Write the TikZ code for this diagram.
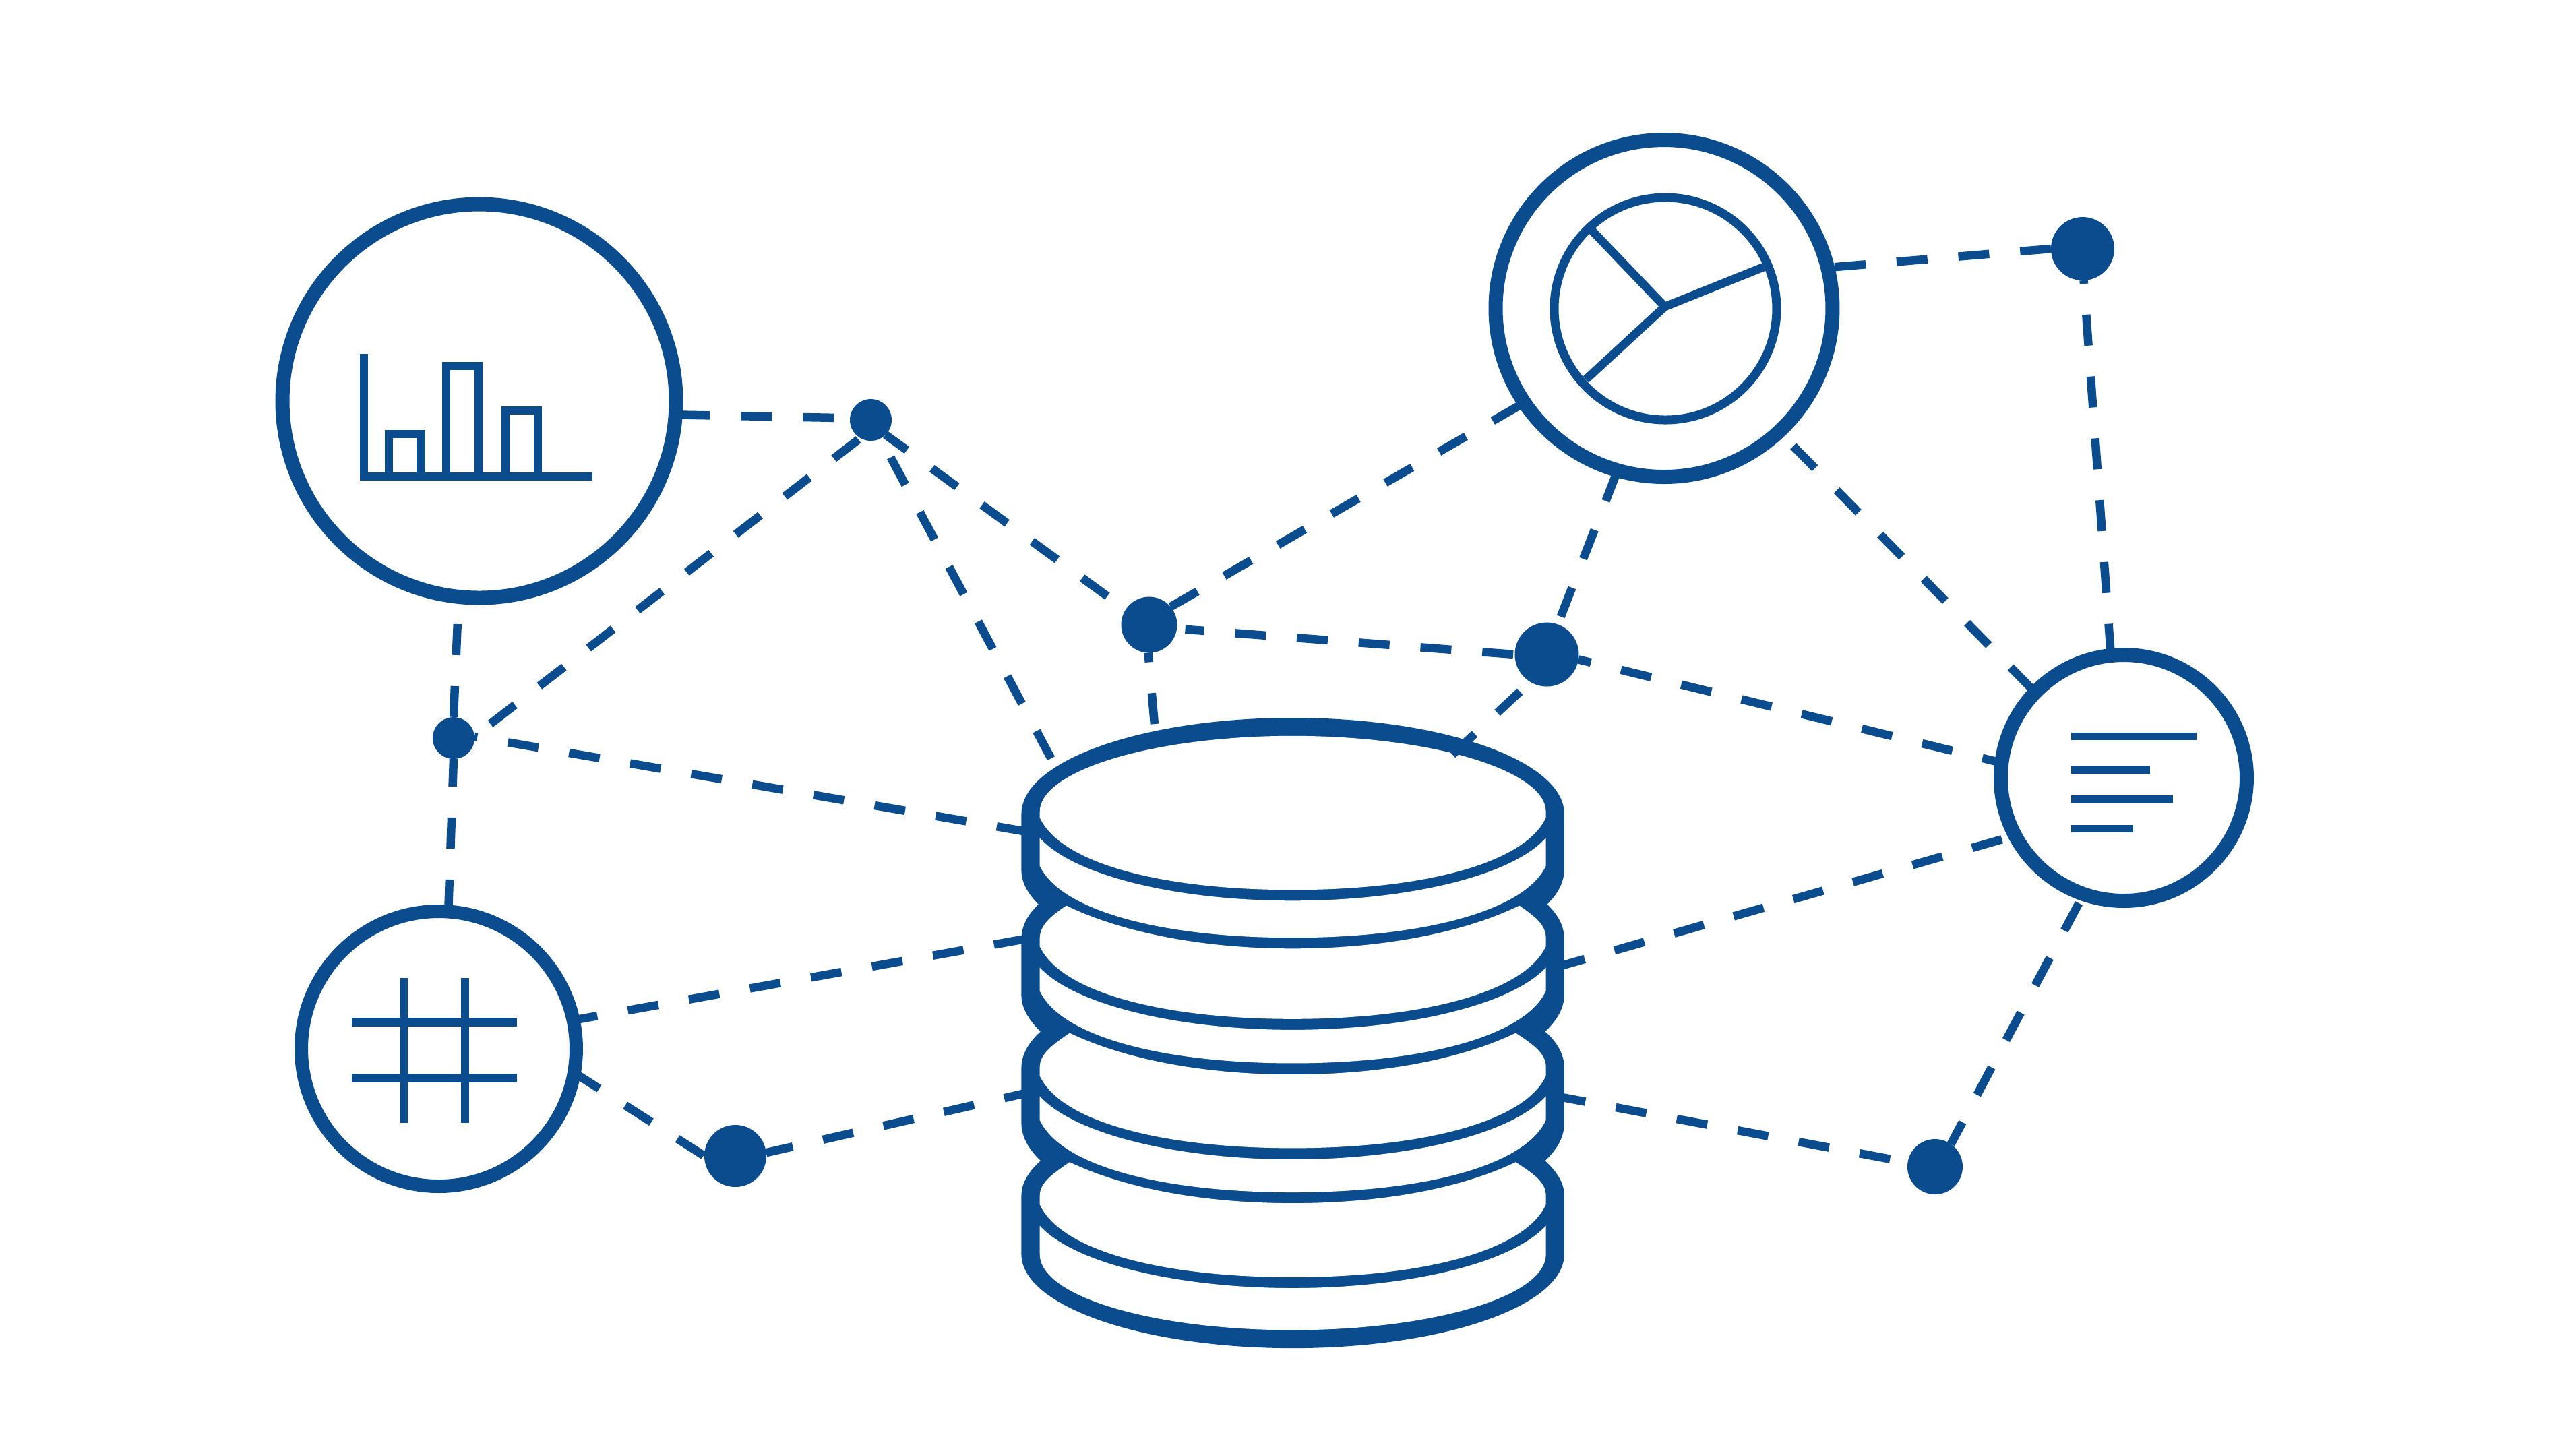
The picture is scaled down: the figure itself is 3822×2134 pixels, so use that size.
\documentclass[tikz,border=0pt]{standalone}
\definecolor{dbblue}{HTML}{0A4C8E}
\pgfdeclarelayer{connlayer}
\pgfsetlayers{connlayer,main}
\tikzset{
  ring/.style={circle,draw=dbblue,fill=white,inner sep=0pt,outer sep=0pt,line width=2.1pt},
  dot/.style={circle,fill=dbblue,inner sep=0pt,outer sep=0pt},
  conn/.style={draw=dbblue,line width=1.25pt,dash pattern=on 4.6pt off 4.6pt},
  icon/.style={draw=dbblue,line width=1.25pt,miter limit=10},
  dbmap/.style={shift={(1450,1000)},xscale=0.60606,yscale=0.66986}
}
\begin{document}
\begin{tikzpicture}[x=0.1pt,y=-0.1pt]
\useasboundingbox (0,0) rectangle (3822,2134);
% nodes
\node[ring,minimum size=58.4pt] (chart) at (711,595) {};
\node[ring,minimum size=50pt] (pie) at (2469,457.5) {};
\node[ring,minimum size=36.5pt] (text) at (3151,1154) {};
\node[ring,minimum size=40.8pt,line width=2pt] (grid) at (651,1556) {};
\node[dot,minimum size=6.2pt] (A) at (1292,623) {};
\node[dot,minimum size=6.2pt] (L) at (673,1095) {};
\node[dot,minimum size=8.3pt] (M1) at (1705,927) {};
\node[dot,minimum size=9.5pt] (M2) at (2295,971) {};
\node[dot,minimum size=9.4pt] (TR) at (3090,369) {};
\node[dot,minimum size=9.2pt] (BL) at (1091,1715) {};
\node[dot,minimum size=8.2pt] (BR) at (2871,1731) {};
% free ends on the database
\coordinate (dbA) at (1561,1128);
\coordinate (dbB) at (1713,1075);
\coordinate (dbC) at (1530,1235);
\coordinate (dbD) at (1530,1391.5);
\coordinate (dbE) at (1530,1620);
\coordinate (dbF) at (2155,1119.5);
\coordinate (dbG) at (2307,1435.5);
\coordinate (dbH) at (2307,1626);
\begin{pgfonlayer}{connlayer}
\fill[white] (0,0) rectangle (3822,2134);
\draw[conn,dash phase=8.7pt] (chart.-4.4) -- (A.175);
\draw[conn,dash phase=6.2pt] (L.5) -- (A.240);
\draw[conn,dash phase=0.7pt] (A.-45) -- (M1.147);
\draw[conn,dash phase=6pt] (A.-62) -- (dbA);
\draw[conn,dash phase=3.2pt] (M1.268) -- (dbB);
\draw[conn,dash phase=1.8pt,shorten <=1.25pt] (M1.-8) -- (M2.180);
\draw[conn] (M1.40) -- (pie.214);
\draw[conn,dash phase=5.14pt] (chart.264) -- (L.90);
\draw[conn,dash phase=0.5pt] (L.-90) -- (grid.86);
\draw[conn,dash phase=4.16pt] (L.4) -- (dbC);
\draw[conn,dash phase=0.97pt] (grid.12.5) -- (dbD);
\draw[conn,dash phase=0.2pt] (grid.-10) -- (BL.180);
\draw[conn,dash phase=0.55pt] (BL.6) -- (dbE);
\draw[conn,dash phase=8.13pt] (pie.14) -- (TR.180);
\draw[conn,dash phase=4.1pt] (TR.-88) -- (text.96);
\draw[conn,dash phase=6.18pt] (pie.-47) -- (text.136);
\draw[conn,dash phase=7.96pt] (M2.70) -- (pie.254);
\draw[conn,dash phase=2.7pt] (M2.-9) -- (text.173);
\draw[conn] (dbG) -- (text.208);
\draw[conn] (dbH) -- (BR.171);
\draw[conn,dash phase=0.92pt] (BR.55) -- (text.251);
\end{pgfonlayer}
% database
\begin{scope}[dbmap]
\fill[dbblue] (108,310) .. controls (108,192) and (405,97) .. (772,97) .. controls (1139,97) and (1437,192) .. (1437,310)
 -- (1437,432) .. controls (1437,462) and (1420,488) .. (1395,510) .. controls (1420,532) and (1437,556) .. (1437,588)
 -- (1437,710) .. controls (1437,742) and (1416,770) .. (1390,792) .. controls (1416,812) and (1437,840) .. (1437,872)
 -- (1437,995) .. controls (1437,1028) and (1416,1056) .. (1390,1078) .. controls (1416,1100) and (1437,1125) .. (1437,1155)
 -- (1437,1285) .. controls (1437,1400) and (1139,1493) .. (772,1493) .. controls (405,1493) and (108,1400) .. (108,1285)
 -- (108,1155) .. controls (108,1125) and (130,1098) .. (155,1078) .. controls (130,1056) and (108,1028) .. (108,995)
 -- (108,872) .. controls (108,840) and (130,812) .. (155,792) .. controls (130,770) and (108,742) .. (108,712)
 -- (108,588) .. controls (108,556) and (125,532) .. (150,510) .. controls (125,488) and (108,462) .. (108,435) -- cycle;
\fill[white] (153,305) .. controls (153,214) and (430,137) .. (772,137) .. controls (1114,137) and (1392,214) .. (1392,305)
 -- (1392,318) .. controls (1340,420) and (1090,478) .. (772,478) .. controls (454,478) and (205,420) .. (153,318) -- cycle;
\fill[white] (153,363) .. controls (240,450) and (500,502) .. (772,502) .. controls (1045,502) and (1305,450) .. (1392,363)
 -- (1392,425) .. controls (1340,525) and (1090,584) .. (772,584) .. controls (454,584) and (205,525) .. (153,425) -- cycle;
\fill[white] (218,513) .. controls (360,575) and (560,608) .. (772,608) .. controls (985,608) and (1185,575) .. (1327,513)
 .. controls (1365,537) and (1392,555) .. (1392,585) -- (1392,603) .. controls (1340,705) and (1090,764) .. (772,764)
 .. controls (454,764) and (205,705) .. (153,603) -- (153,585) .. controls (153,555) and (185,533) .. (218,513) -- cycle;
\fill[white] (153,650) .. controls (240,735) and (500,788) .. (772,788) .. controls (1045,788) and (1305,735) .. (1392,650)
 -- (1392,702) .. controls (1340,803) and (1090,862) .. (772,862) .. controls (454,862) and (205,803) .. (153,702) -- cycle;
\fill[white] (226,795) .. controls (365,855) and (560,887) .. (772,887) .. controls (985,887) and (1180,855) .. (1318,795)
 .. controls (1360,820) and (1392,840) .. (1392,870) -- (1392,890) .. controls (1340,992) and (1090,1050) .. (772,1050)
 .. controls (454,1050) and (205,992) .. (153,890) -- (153,870) .. controls (153,840) and (190,818) .. (226,795) -- cycle;
\fill[white] (153,935) .. controls (240,1022) and (500,1075) .. (772,1075) .. controls (1045,1075) and (1305,1022) .. (1392,935)
 -- (1392,988) .. controls (1340,1090) and (1090,1148) .. (772,1148) .. controls (454,1148) and (205,1090) .. (153,988) -- cycle;
\fill[white] (226,1081) .. controls (365,1141) and (560,1172) .. (772,1172) .. controls (985,1172) and (1180,1141) .. (1318,1081)
 .. controls (1360,1106) and (1392,1125) .. (1392,1155) -- (1392,1175) .. controls (1340,1278) and (1090,1336) .. (772,1336)
 .. controls (454,1336) and (205,1278) .. (153,1175) -- (153,1155) .. controls (153,1125) and (190,1104) .. (226,1081) -- cycle;
\fill[white] (153,1222) .. controls (240,1308) and (500,1360) .. (772,1360) .. controls (1045,1360) and (1305,1308) .. (1392,1222)
 -- (1392,1285) .. controls (1392,1380) and (1110,1453) .. (772,1453) .. controls (435,1453) and (153,1380) .. (153,1285) -- cycle;
\end{scope}
\draw[conn,dash phase=7.1pt] (M2.239) -- (dbF);
% bar chart icon
\draw[icon] (540,524.6) -- (540,707) -- (879,707);
\draw[icon] (577,707) -- (577,644) -- (624.5,644) -- (624.5,707);
\draw[icon] (662,707) -- (662,543) -- (710,543) -- (710,707);
\draw[icon] (750,707) -- (750,609) -- (798,609) -- (798,707);
% pie icon
\node[ring,minimum size=33pt,line width=1.3pt] (pieinner) at (2471,458) {};
\draw[icon,line join=miter] (2362,342) -- (2470,455) -- (2617,396);
\draw[icon] (2470,455) -- (2353,563);
% text icon
\draw[draw=dbblue,line width=1.12pt] (3073,1092.7) -- (3259,1092.7);
\draw[draw=dbblue,line width=1.12pt] (3073,1142) -- (3190,1142);
\draw[draw=dbblue,line width=1.12pt] (3073,1186) -- (3224,1186);
\draw[draw=dbblue,line width=1.12pt] (3073,1229.6) -- (3165,1229.6);
% grid icon
\draw[icon,line width=1.26pt] (522,1516.6) -- (767,1516.6);
\draw[icon,line width=1.26pt] (522,1599.5) -- (767,1599.5);
\draw[icon,line width=1.2pt] (599.5,1451) -- (599.5,1666);
\draw[icon,line width=1.2pt] (690,1451) -- (690,1666);
\end{tikzpicture}
\end{document}
